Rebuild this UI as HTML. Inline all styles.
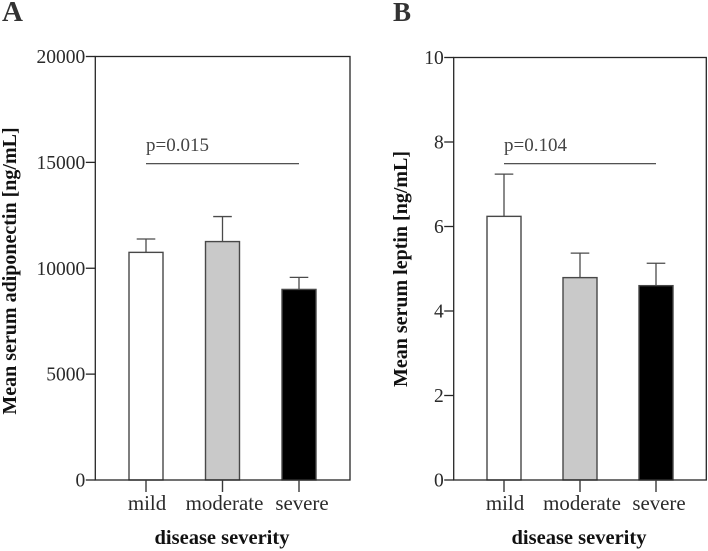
<!DOCTYPE html>
<html lang="en">
<head>
<meta charset="utf-8">
<title>Serum adiponectin and leptin by disease severity</title>
<style>
  html, body { margin: 0; padding: 0; background: #fff; }
  svg { display: block; font-family: "Liberation Serif", serif; }
</style>
</head>
<body>
<svg id="chart" xmlns="http://www.w3.org/2000/svg" width="708" height="551" viewBox="0 0 708 551"></svg>
<script>
const categories = ['mild', 'moderate', 'severe'];
const adiponectinMeans = [10750, 11260, 9000];
const adiponectinErrorTops = [11380, 12440, 9570];
const adiponectinTicks = [0, 5000, 10000, 15000, 20000];
const leptinMeans = [6.24, 4.79, 4.6];
const leptinErrorTops = [7.24, 5.37, 5.13];
const leptinTicks = [0, 2, 4, 6, 8, 10];
const barFills = ['#ffffff', '#c9c9c9', '#000000'];

const svg = document.getElementById('chart');
const NS = 'http://www.w3.org/2000/svg';

function make(tag, attrs, parent, text) {
  const el = document.createElementNS(NS, tag);
  for (const k in attrs) el.setAttribute(k, attrs[k]);
  if (text !== undefined) el.textContent = text;
  parent.appendChild(el);
  return el;
}

function drawPanel(p) {
  const g = make('g', {}, svg);
  
  

  const yMax = p.ticks[p.ticks.length - 1];
  const yScale = v => p.bottom - (v / yMax) * (p.bottom - p.top);
  const xScale = i => p.firstX + i * p.stepX;
  const ink = '#262626';

  const letter = make('text', { x: p.letterX, y: 21, 'font-size': p.letterSize, 'font-weight': 'bold', fill: '#333' }, g, p.letter);
  
  

  // bars and error bars
  categories.forEach((c, i) => {
    const cx = xScale(i);
    const yTop = yScale(p.means[i]);
    const yErr = yScale(p.errs[i]);

    const stem = make('line', { x1: cx, x2: cx, y1: yErr, y2: yTop, stroke: '#4a4a4a', 'stroke-width': 1.3 }, g);
    
    

    const cap = make('line', { x1: cx - 9.3, x2: cx + 9.3, y1: yErr, y2: yErr, stroke: '#4a4a4a', 'stroke-width': 1.3 }, g);
    
    

    const bar = make('rect', { x: cx - 17, y: yTop, width: 34, height: p.bottom - yTop, fill: barFills[i], stroke: '#484848', 'stroke-width': 1.4 }, g);
    
    
  });

  // plot frame
  const frame = make('rect', { x: p.left, y: p.top, width: p.right - p.left, height: p.bottom - p.top, fill: 'none', stroke: ink, 'stroke-width': 1.3 }, g);
  
  

  // y axis
  p.ticks.forEach(t => {
    const y = yScale(t);
    const tick = make('line', { x1: p.left - 9.5, x2: p.left, y1: y, y2: y, stroke: ink, 'stroke-width': 1.3 }, g);
    
    

    const label = make('text', { x: p.left - 10, y: y + 6.5, 'text-anchor': 'end', 'font-size': 19.5, fill: '#2a2a2a' }, g, String(t));
    
    
  });

  // x axis
  categories.forEach((c, i) => {
    const cx = xScale(i);
    const tick = make('line', { x1: cx, x2: cx, y1: p.bottom, y2: p.bottom + 12, stroke: '#3a3a3a', 'stroke-width': 1.4 }, g);
    
    

    const label = make('text', { x: cx + (i === 0 ? 1 : i === 1 ? 2 : 3), y: 510, 'text-anchor': 'middle', 'font-size': 20.9, fill: '#2a2a2a' }, g, c);
    
    
  });

  // axis titles
  const xTitle = make('text', { x: p.xTitleX, y: 544, 'text-anchor': 'middle', 'font-size': 20.5, 'font-weight': 'bold', fill: '#111' }, g, 'disease severity');
  
  

  const yTitle = make('text', { x: 0, y: 0, 'text-anchor': 'middle', 'font-size': 20, 'font-weight': 'bold', fill: '#111', transform: 'translate(' + p.yTitleX + ' ' + p.yTitleY + ') rotate(-90)' }, g, p.yTitle);
  
  

  // significance annotation
  const sig = make('line', { x1: xScale(0), x2: xScale(2), y1: 163.7, y2: 163.7, stroke: '#3a3a3a', 'stroke-width': 1.1 }, g);
  
  

  const pText = make('text', { x: xScale(0), y: 151, 'font-size': 19, fill: '#444' }, g, p.pValue);
  
  
}

drawPanel({
  id: 'a', letter: 'A', letterX: 2, letterSize: 29,
  left: 95.3, right: 350, top: 56.5, bottom: 480,
  firstX: 146, stepX: 76.5, xTitleX: 222, yTitleX: 16, yTitleY: 271,
  means: adiponectinMeans, errs: adiponectinErrorTops, ticks: adiponectinTicks,
  yTitle: 'Mean serum adiponectin [ng/mL]', pValue: 'p=0.015'
});

drawPanel({
  id: 'b', letter: 'B', letterX: 393, letterSize: 27,
  left: 453.7, right: 706.3, top: 57.5, bottom: 480,
  firstX: 504, stepX: 76, xTitleX: 579, yTitleX: 407, yTitleY: 269,
  means: leptinMeans, errs: leptinErrorTops, ticks: leptinTicks,
  yTitle: 'Mean serum leptin [ng/mL]', pValue: 'p=0.104'
});
</script>
</body>
</html>
